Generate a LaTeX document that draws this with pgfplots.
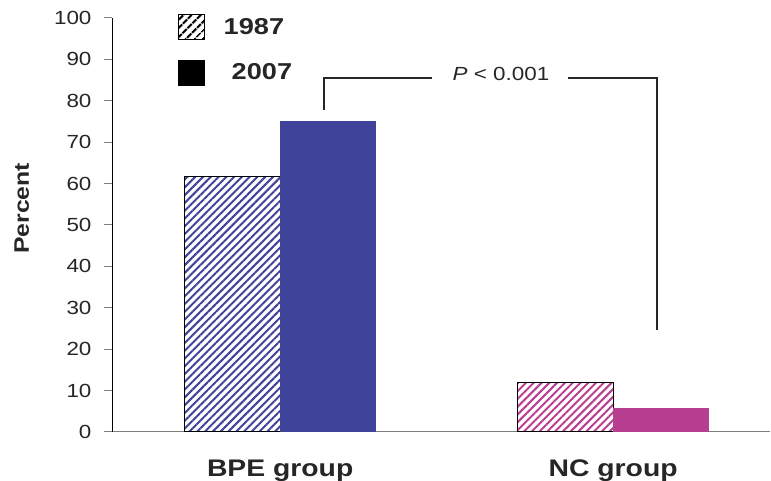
\documentclass[border=0pt]{standalone}
\usepackage{pgfplots}
\pgfplotsset{compat=1.18}
\usetikzlibrary{patterns.meta}
\usepackage{fontspec}
\setmainfont{Liberation Sans}[FakeStretch=1.18]
\definecolor{bpe}{HTML}{3F4399}
\definecolor{nc}{HTML}{B83E92}
\begin{document}
\begin{tikzpicture}
\path[use as bounding box] (0,0) rectangle (771pt,481pt);
\begin{axis}[
  at={(112pt,49pt)}, anchor=south west,
  scale only axis, width=658pt, height=414pt,
  xmin=-0.505, xmax=1.471, ymin=0, ymax=100,
  axis lines*=left,
  x axis line style={gray, line width=1pt},
  y axis line style={black, line width=0.8pt},
  ytick={0,10,...,100},
  tick align=outside,
  major tick length=8pt,
  y tick style={gray, line width=1pt},
  xtick={0,1}, xticklabels={BPE group, NC group},
  x tick style={draw=none},
  extra x ticks={0.5}, extra x tick labels={},
  extra x tick style={tick style={black, line width=0.8pt, draw=black}, major tick length=9pt},
  /pgf/number format/assume math mode=true,
  yticklabel style={font=\fontsize{19}{19}\selectfont, xshift=-9pt, text=black!85},
  xticklabel style={font=\bfseries\fontsize{24}{24}\selectfont, yshift=-16pt, text=black!85},
  ylabel={\bfseries Percent},
  ylabel style={font=\fontsize{21}{21}\selectfont, at={(axis description cs:-0.137,0.54)}, anchor=center, text=black!85},
  legend style={draw=none, fill=none, at={(axis description cs:0.099,1.012)}, anchor=north west,
    inner sep=0pt, row sep=19pt, font=\bfseries\fontsize{23}{23}\selectfont, text=black!85,
    /tikz/every odd column/.append style={column sep=16pt}},
  legend cell align=left,
  clip=false,
]
\addlegendimage{legend image code/.code={\draw[black, line width=1pt, pattern={Lines[angle=45,distance=6.5pt,line width=2.4pt]}, pattern color=black] (0pt,-12.5pt) rectangle (26pt,12.5pt);}}
\addlegendentry{1987}
\addlegendimage{legend image code/.code={\fill[black] (0pt,-12.5pt) rectangle (26pt,12.5pt);}}
\addlegendentry{\hspace{8pt}2007}

\addplot[ybar, bar width=0.288, bar shift=-0.144, draw=black, line width=1pt,
  pattern={Lines[angle=45,distance=5.5pt,line width=2pt]}, pattern color=bpe, forget plot]
  coordinates {(0,61.8)};
\addplot[ybar, bar width=0.288, bar shift=0.144, fill=bpe, draw=none, forget plot]
  coordinates {(0,75.1)};
\addplot[ybar, bar width=0.288, bar shift=-0.144, draw=black, line width=1pt,
  pattern={Lines[angle=45,distance=5.5pt,line width=2pt]}, pattern color=nc, forget plot]
  coordinates {(1,11.9)};
\addplot[ybar, bar width=0.288, bar shift=0.144, fill=nc, draw=none, forget plot]
  coordinates {(1,5.9)};

\addplot[black!85, line width=1.3pt, forget plot] coordinates {(0.132,77.8) (0.132,85.5) (0.456,85.5)};
\addplot[black!85, line width=1.3pt, forget plot] coordinates {(0.865,85.5) (1.132,85.5) (1.132,24.6)};
\node[font=\fontsize{19}{19}\selectfont, text=black!85] at (axis cs:0.663,86.6) {\textit{P} < 0.001};
\end{axis}
\end{tikzpicture}
\end{document}
